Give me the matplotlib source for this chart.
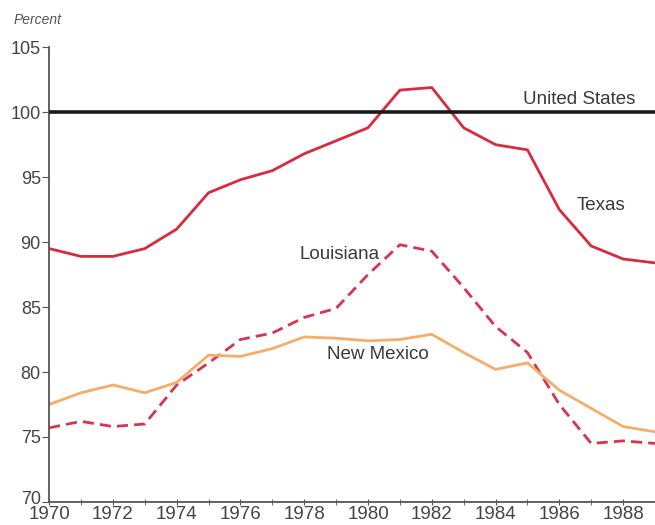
import matplotlib
matplotlib.use("Agg")
import matplotlib.pyplot as plt
from matplotlib.transforms import ScaledTranslation

plt.rcParams['font.family'] = ['Liberation Sans', 'DejaVu Sans']

### data (US = 100)
years = list(range(1970, 1990))
us = [100.0] * len(years)
texas = [89.5, 88.9, 88.9, 89.5, 91.0, 93.8, 94.8, 95.5, 96.8, 97.8,
         98.8, 101.7, 101.9, 98.8, 97.5, 97.1, 92.5, 89.7, 88.7, 88.4]
louisiana = [75.7, 76.2, 75.8, 76.0, 79.0, 80.7, 82.5, 83.0, 84.2, 84.9,
             87.5, 89.8, 89.3, 86.5, 83.5, 81.5, 77.5, 74.5, 74.7, 74.5]
new_mexico = [77.5, 78.4, 79.0, 78.4, 79.2, 81.3, 81.2, 81.8, 82.7, 82.6,
              82.4, 82.5, 82.9, 81.5, 80.2, 80.7, 78.6, 77.2, 75.8, 75.4]
x_ticks = list(range(1970, 1990, 2))
y_ticks = [70, 75, 80, 85, 90, 95, 100, 105]

fig = plt.figure(figsize=(6.55, 5.25), dpi=100)
ax = fig.add_axes([0.075, 0.044, 0.925, 0.866])

ax.plot(years, us, color='#1a1a1a', lw=2.6, zorder=3)
ax.plot(years, texas, color='#d92a3e', lw=2.0)
ax.plot(years, louisiana, color='#d6344f', lw=2.0, ls=(0, (4, 2.2)))
ax.plot(years, new_mexico, color='#f5ad6a', lw=2.0)

# series labels
lab = dict(fontsize=13.5, color='#3a3a3a', va='center')
ax.text(1984.85, 101.0, 'United States', **lab)
ax.text(1986.55, 92.8, 'Texas', **lab)
ax.text(1977.85, 89.05, 'Louisiana', **lab)
ax.text(1978.72, 81.35, 'New Mexico', **lab)

ax.set_xlim(1970, 1988.8)
ax.set_ylim(70, 105)
ax.set_xticks(x_ticks)
ax.set_xticks(years, minor=True)
ax.set_yticks(y_ticks)

for s in ['top', 'right']:
    ax.spines[s].set_visible(False)
for s in ['left', 'bottom']:
    ax.spines[s].set_color('#555555')
    ax.spines[s].set_linewidth(1.3)

ax.tick_params(axis='y', direction='out', length=5, color='#555555',
               labelsize=13, labelcolor='#444444', pad=1)
ax.tick_params(axis='x', which='both', direction='inout', length=5,
               color='#555555', labelsize=13.5, labelcolor='#444444', pad=0.5)

# nudge the "70" label up a little so it clears "1970"
fig.canvas.draw()
lbl70 = ax.get_yticklabels()[0]
lbl70.set_transform(lbl70.get_transform() + ScaledTranslation(0, 3 / 72, fig.dpi_scale_trans))

fig.text(0.02, 0.962, 'Percent', fontsize=10, style='italic', color='#555555',
         va='center')

fig.savefig('out.png', dpi=100)
